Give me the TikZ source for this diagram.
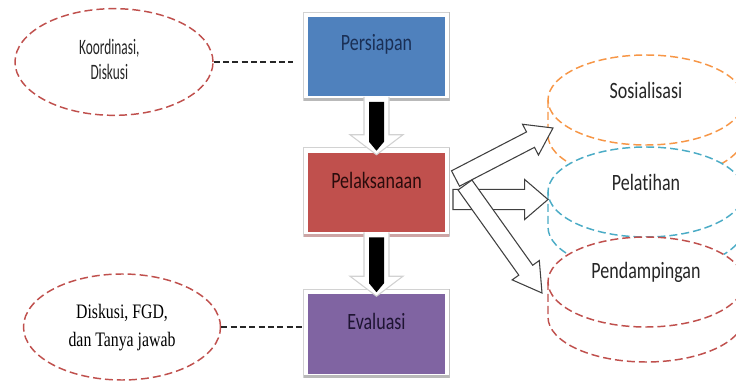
\documentclass[tikz,border=0pt]{standalone}
\usepackage{fontspec}
\usepackage{graphicx}
\setmainfont{Carlito}[Ligatures=NoCommon]
\newfontfamily\serifx{Liberation Serif}
\usetikzlibrary{shapes.geometric,calc,backgrounds}
\pgfdeclarelayer{paper}
\pgfsetlayers{paper,background,main}

\definecolor{ellred}{HTML}{C0504D}
\definecolor{cylorange}{HTML}{F79646}
\definecolor{cylblue}{HTML}{4BACC6}
\definecolor{boxblue}{HTML}{4F81BD}
\definecolor{boxred}{HTML}{C0504D}
\definecolor{boxpurple}{HTML}{8064A2}
\definecolor{navytext}{HTML}{1A2F55}
\definecolor{redtext}{HTML}{2A0C0C}
\definecolor{purpletext}{HTML}{1E1432}
\definecolor{pinkbar}{RGB}{205,165,165}

\tikzset{
  redash/.style={dash pattern=on 6pt off 3pt, line width=1.1pt},
  leftell/.style={ellipse, draw=ellred, redash, inner sep=0pt,
    minimum width=148.5pt, minimum height=80pt, align=center},
  conn/.style={draw=black!85, line width=1.5pt, dash pattern=on 4.5pt off 2.5pt},
  boxfill/.style={minimum width=102.75pt, minimum height=59.25pt, inner sep=0pt},
  frame/.style={fill=white, draw=gray!35, line width=0.6pt},
  blockarrow/.style={fill=white, draw=black!75, line width=0.8pt, line join=miter},
  downout/.style={fill=white, draw=gray!35, line width=0.8pt},
  boxtext/.style={font=\fontsize{13.5pt}{16pt}\selectfont, inner sep=0pt},
  cyltext/.style={font=\fontsize{13.5pt}{16pt}\selectfont, inner sep=0pt, text=black!85},
}

% cylinder: #1 cx, #2 cy, #3 colour, #4 name, #5 text
\newcommand\cylx[5]{%
  \path[fill=white] ({#1-98},#2) -- ({#1-98},{#2+35})
    arc[start angle=180,end angle=360,x radius=73.5pt,y radius=33.75pt]
    -- ({#1+98},#2)
    arc[start angle=0,end angle=180,x radius=73.5pt,y radius=33.75pt] -- cycle;
  \draw[#3, redash] (#1,#2) ellipse[x radius=73.5pt, y radius=33.75pt];
  \draw[#3, redash] ({#1-98},#2) -- ({#1-98},{#2+35})
    arc[start angle=180,end angle=360,x radius=73.5pt,y radius=33.75pt]
    -- ({#1+98},#2);
  \node[cyltext] (#4) at (#1,{#2-10}) {\scalebox{1}[1.3]{#5}};
}

% block arrow: #1 start, #2 tip, #3 shaft half width, #4 head half width, #5 head length
\newcommand\barrow[5]{%
  \coordinate (H) at ($(#2)!#5!(#1)$);
  \path[blockarrow] ($(#1)!#3!90:(#2)$) -- ($(H)!#3!90:(#2)$) -- ($(H)!#4!90:(#2)$)
    -- (#2) -- ($(H)!#4!-90:(#2)$) -- ($(H)!#3!-90:(#2)$) -- ($(#1)!#3!-90:(#2)$) -- cycle;
}

% down arrow between boxes
\newcommand\downarr[2]{%
  \path[downout] ($(#1.south)+(-12.5,0)$) -- ($(#2.north)+(-12.5,-18)$)
    -- ($(#2.north)+(-26.5,-18)$) -- ($(#2.north)+(0,2)$)
    -- ($(#2.north)+(26.5,-18)$) -- ($(#2.north)+(12.5,-18)$)
    -- ($(#1.south)+(12.5,0)$);
  \fill[black] ($(#1.south)+(-7.5,5)$) -- ($(#2.north)+(-7.5,-11)$)
    -- ($(#2.north)+(0,-2)$) -- ($(#2.north)+(7.5,-11)$)
    -- ($(#1.south)+(7.5,5)$) -- cycle;
}

\begin{document}
\begin{tikzpicture}[x=0.75pt,y=-0.75pt]
\useasboundingbox (0,0) rectangle (736,381);
\clip (0,0) rectangle (736,381);
\begin{pgfonlayer}{paper}
\fill[white] (0,0) rectangle (736,381);
\end{pgfonlayer}

% right cylinders
\cylx{646}{100}{cylorange}{sos}{Sosialisasi}
\cylx{646}{192}{cylblue}{pel}{Pelatihan}
\cylx{646}{282}{ellred}{pen}{Pendampingan}

% central boxes
\node[boxfill, fill=boxblue] (p) at (376.5,57) {};
\node[boxfill, fill=boxred] (q) at (376.5,192.5) {};
\node[boxfill, fill=boxpurple] (e) at (376.5,334) {};

\begin{scope}[on background layer]
  \foreach \b/\bar in {p/gray!55, q/pinkbar, e/gray!55}{
    \path[frame] ([shift={(-4,-5)}]\b.north west) rectangle ([shift={(4,4)}]\b.south east);
    \draw[\bar, line width=2.2pt] ([shift={(-4,3)}]\b.south west) -- ([shift={(4,3)}]\b.south east);
    \draw[gray!50, line width=0.8pt] ([shift={(4,-5)}]\b.north east) -- ([shift={(4,4)}]\b.south east);
  }
\end{scope}

\node[boxtext, text=navytext] (pt) at ($(p.center)+(0,-13)$) {\scalebox{1}[1.3]{Persiapan}};
\node[boxtext, text=redtext] (qt) at ($(q.center)+(0,-12)$) {\scalebox{1}[1.3]{Pelaksanaan}};
\node[boxtext, text=purpletext] (et) at ($(e.center)+(0,-13)$) {\scalebox{1}[1.3]{Evaluasi}};

% down arrows
\downarr{p}{q}
\downarr{q}{e}

% block arrows to the right
\coordinate (s1) at (455.5,178.5);
\coordinate (t1) at (553,128);
\coordinate (s2) at (453,199.5);
\coordinate (t2) at (548,199.5);
\coordinate (s3) at (465,185);
\coordinate (t3) at (542,293);
\barrow{s1}{t1}{6.5pt}{13pt}{19pt}
\barrow{s2}{t2}{7.6pt}{15pt}{17.5pt}
\barrow{s3}{t3}{6.4pt}{12.5pt}{21pt}

% left ellipses
\node[leftell] (k) at (114,62) {\scalebox{1}[1.65]{\fontsize{10pt}{11.5pt}\selectfont\color{black!85}\begin{tabular}{@{}c@{}}Koordinasi,\\Diskusi\end{tabular}}\hspace*{7pt}};
\node[leftell, minimum width=147.75pt, minimum height=79.5pt] (d) at (122,327) {\scalebox{1}[1.3]{\serifx\fontsize{11.85pt}{16.3pt}\selectfont\begin{tabular}{@{}c@{}}Diskusi, FGD,\\dan Tanya jawab\end{tabular}}};

\draw[conn, shorten >=11.25pt] (k.east) -- (k.east -| p.west);
\draw[conn, shorten >=4.5pt] (d.east) -- (d.east -| e.west);
\end{tikzpicture}
\end{document}
